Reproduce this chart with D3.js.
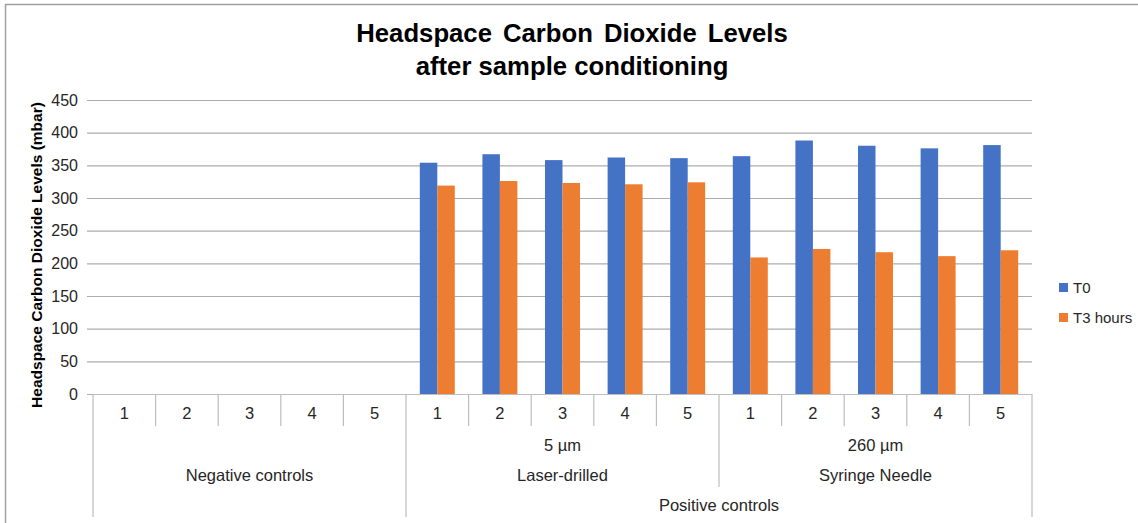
<!DOCTYPE html>
<html>
<head>
<meta charset="utf-8">
<script src="https://cdn.jsdelivr.net/npm/d3@7"></script>
<style>
  html, body { margin: 0; padding: 0; background: #fff; }
  svg { display: block; font-family: "Liberation Sans", Arial, sans-serif; }
</style>
</head>
<body>
<svg id="chart" width="1138" height="523"></svg>
<script>
// Sample labels (innermost category level), one per column
const sampleLabels = ["1","2","3","4","5","1","2","3","4","5","1","2","3","4","5"];
// Hole size level
const holeSizes = [
  { label: "", from: 0, to: 4 },
  { label: "5 µm", from: 5, to: 9 },
  { label: "260 µm", from: 10, to: 14 }
];
// Method level
const methods = [
  { label: "Negative controls", from: 0, to: 4 },
  { label: "Laser-drilled", from: 5, to: 9 },
  { label: "Syringe Needle", from: 10, to: 14 }
];
// Control type level
const controlTypes = [
  { label: "", from: 0, to: 4 },
  { label: "Positive controls", from: 5, to: 14 }
];
// Headspace CO2 (mbar)
const seriesNames = ["T0", "T3 hours"];
const t0Values = [0, 0, 0, 0, 0, 354, 367, 358, 362, 361, 364, 388, 380, 376, 381];
const t3Values = [0, 0, 0, 0, 0, 319, 326, 323, 321, 324, 209, 222, 217, 211, 220];
const yTicks = [0, 50, 100, 150, 200, 250, 300, 350, 400, 450];
const colors = ["#4472C4", "#ED7D31"];

const svg = d3.select("#chart");

const plot = { left: 93, right: 1032, top: 100, bottom: 394 };

const x = d3.scaleBand()
  .domain(d3.range(sampleLabels.length))
  .range([plot.left, plot.right])
  .paddingInner(0).paddingOuter(0);

const xs = d3.scaleBand()
  .domain(seriesNames)
  .range([0, x.bandwidth()])
  .paddingInner(0).paddingOuter(0.79);

const y = d3.scaleLinear().domain([0, 450]).range([plot.bottom, plot.top]);

// outer chart frame (top and left edges)
svg.append("path")
  .attr("d", "M5.5,523 V4.5 H1138")
  .attr("fill", "none").attr("stroke", "#a0a0a0").attr("stroke-width", 1.5);

// Title
const title = svg.append("text")
  .attr("text-anchor", "middle")
  .attr("font-weight", "bold").attr("font-size", 26.5).attr("fill", "#000")
  .attr("transform", "translate(572,0) scale(0.97,1)");
title.append("tspan").attr("x", 0).attr("y", 42).attr("word-spacing", 4).text("Headspace Carbon Dioxide Levels");
title.append("tspan").attr("x", 0).attr("y", 75).text("after sample conditioning");

// Y axis with gridlines
const yAxis = d3.axisLeft(y)
  .tickValues(yTicks)
  .tickSize(-(plot.right - plot.left) - 6)
  .tickPadding(9)
  .tickFormat(d3.format("d"));

const gy = svg.append("g")
  .attr("transform", `translate(${plot.right},0)`)
  .call(yAxis);
gy.select(".domain").remove();
gy.selectAll(".tick line")
  .attr("transform", `translate(${-(plot.right - plot.left) - 6},0)`)
  .attr("x2", plot.right - plot.left + 6)
  .attr("stroke", "#adadad").attr("stroke-width", 1.2);
gy.selectAll(".tick text")
  .attr("x", -(plot.right - plot.left) - 15)
  .attr("font-size", 16).attr("fill", "#262626")
  .attr("font-family", "Liberation Sans, Arial, sans-serif");

// Y axis title
svg.append("text")
  .attr("transform", `translate(42,${(plot.top + plot.bottom) / 2 + 8}) rotate(-90)`)
  .attr("text-anchor", "middle")
  .attr("font-weight", "bold").attr("font-size", 15.5).attr("fill", "#000")
  .text("Headspace Carbon Dioxide Levels (mbar)");

// Bars
const bars = svg.append("g");
seriesNames.forEach((name, si) => {
  const vals = si === 0 ? t0Values : t3Values;
  bars.selectAll(null)
    .data(vals.map((v, i) => ({ i, v })).filter(d => d.v > 0))
    .join("rect")
    .attr("x", d => x(d.i) + xs(name))
    .attr("y", d => y(d.v))
    .attr("width", xs.bandwidth())
    .attr("height", d => y(0) - y(d.v))
    .attr("fill", colors[si]);
});

// Category axis (multi-level)
const axisColor = "#bdbdbd";
const cat = svg.append("g");
cat.append("line")
  .attr("x1", plot.left).attr("x2", plot.right)
  .attr("y1", plot.bottom + 0.5).attr("y2", plot.bottom + 0.5)
  .attr("stroke", axisColor).attr("stroke-width", 1.2);

const edgeX = i => (i < sampleLabels.length ? x(i) : plot.right);
const rowBottom = [426, 487, 517];

// level dividers: inner separators are short, group edges run deeper
d3.range(sampleLabels.length + 1).forEach(i => {
  let yEnd = rowBottom[0];
  if (methods.some(m => m.from === i || m.to + 1 === i)) yEnd = rowBottom[1];
  if (controlTypes.some(c => c.from === i || c.to + 1 === i)) yEnd = rowBottom[2];
  cat.append("line")
    .attr("x1", edgeX(i)).attr("x2", edgeX(i))
    .attr("y1", plot.bottom).attr("y2", yEnd)
    .attr("stroke", axisColor).attr("stroke-width", 1.2);
});

const labelStyle = sel => sel.attr("text-anchor", "middle")
  .attr("font-size", 16.5).attr("fill", "#262626");

cat.selectAll(".num").data(sampleLabels).join("text")
  .attr("x", (d, i) => x(i) + x.bandwidth() / 2)
  .attr("y", 419).call(labelStyle).text(d => d);

const spanMid = g => (edgeX(g.from) + edgeX(g.to + 1)) / 2;
cat.selectAll(".hole").data(holeSizes).join("text")
  .attr("x", spanMid).attr("y", 451).call(labelStyle).text(d => d.label);
cat.selectAll(".method").data(methods).join("text")
  .attr("x", spanMid).attr("y", 481).call(labelStyle).text(d => d.label);
cat.selectAll(".ctrl").data(controlTypes).join("text")
  .attr("x", spanMid).attr("y", 511).call(labelStyle).text(d => d.label);

// Legend
const legend = svg.append("g").attr("transform", "translate(1059,283)");
seriesNames.forEach((name, i) => {
  const row = legend.append("g").attr("transform", `translate(0,${i * 30})`);
  row.append("rect").attr("width", 9).attr("height", 9).attr("fill", colors[i]);
  row.append("text").attr("x", 14).attr("y", 10)
    .attr("font-size", 15).attr("fill", "#262626").text(name);
});
</script>
</body>
</html>
